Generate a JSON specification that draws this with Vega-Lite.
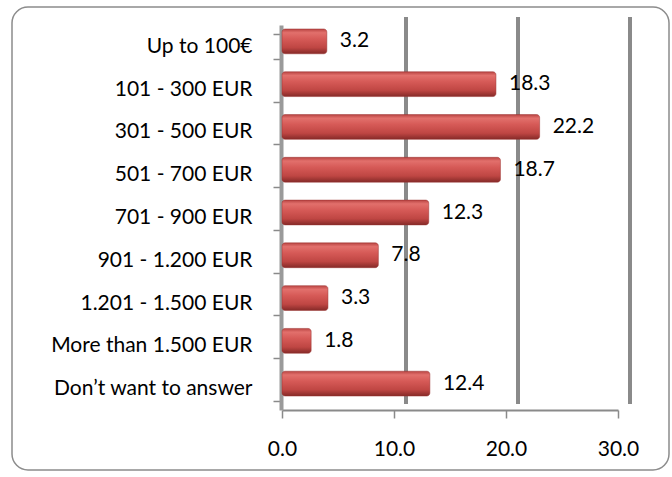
{
  "$schema": "https://vega.github.io/schema/vega-lite/v6.json",
  "width": 657,
  "height": 463,
  "autosize": {"type": "none"},
  "padding": {"left": 12, "top": 7, "right": 3, "bottom": 7},
  "background": "white",
  "config": {
    "view": {"stroke": "#8c8c8c", "strokeWidth": 1.5, "cornerRadius": 16},
    "font": "Lato"
  },
  "data": {
    "values": [
      {"cat": "Up to 100€", "v": 3.2},
      {"cat": "101 - 300 EUR", "v": 18.3},
      {"cat": "301 - 500 EUR", "v": 22.2},
      {"cat": "501 - 700 EUR", "v": 18.7},
      {"cat": "701 - 900 EUR", "v": 12.3},
      {"cat": "901 - 1.200 EUR", "v": 7.8},
      {"cat": "1.201 - 1.500 EUR", "v": 3.3},
      {"cat": "More than  1.500 EUR", "v": 1.8},
      {"cat": "Don’t want to answer", "v": 12.4}
    ]
  },
  "layer": [
    {
      "data": {"values": [{"g": 10}, {"g": 20}, {"g": 30}]},
      "mark": {"type": "rule", "color": "#8a8a8a", "strokeWidth": 4, "xOffset": 12},
      "encoding": {
        "x": {
          "field": "g", "type": "quantitative",
          "scale": {"domain": [0, 30], "range": [270, 606], "nice": false, "zero": false},
          "axis": {
            "title": null, "values": [0, 10, 20, 30], "format": ".1f", "offset": -60, "grid": false,
            "labelFlush": false,
            "domainColor": "#8a8a8a", "domainWidth": 2,
            "tickSize": 8, "tickColor": "#8a8a8a", "tickWidth": 1.5,
            "labelFontSize": 21, "labelColor": "#000000", "labelPadding": 20, "labelFont": "Lato"
          }
        },
        "y": {"datum": 0, "type": "quantitative", "scale": {"domain": [0, 1], "range": [10, 397]}, "axis": null},
        "y2": {"datum": 1}
      }
    },
    {
      "mark": {
        "type": "bar",
        "yOffset": -5,
        "xOffset": 9,
        "cornerRadiusEnd": 3,
        "stroke": "#9a3331",
        "strokeWidth": 0.5,
        "color": {
          "gradient": "linear", "x1": 0, "y1": 0, "x2": 0, "y2": 1,
          "stops": [
            {"offset": 0, "color": "#b94442"},
            {"offset": 0.15, "color": "#e2706c"},
            {"offset": 0.4, "color": "#d65a57"},
            {"offset": 0.75, "color": "#bf4643"},
            {"offset": 1, "color": "#852a28"}
          ]
        }
      },
      "encoding": {
        "y": {
          "field": "cat", "type": "nominal", "sort": null,
          "scale": {"range": [18, 403], "paddingInner": 0.42, "paddingOuter": 0.21},
          "axis": {
            "title": null, "offset": -269,
            "domainColor": "#9a9a9a", "domainWidth": 4,
            "tickBand": "extent", "tickSize": 8, "tickColor": "#8a8a8a", "tickWidth": 1.5,
            "labelFontSize": 21, "labelColor": "#000000", "labelPadding": 21, "labelFont": "Lato", "labelLimit": 400
          }
        },
        "x": {
          "field": "v", "type": "quantitative",
          "scale": {"domain": [0, 30], "range": [270, 606], "nice": false, "zero": false}
        },
        "x2": {"datum": 0}
      }
    },
    {
      "mark": {"type": "text", "align": "left", "baseline": "middle", "dx": 22, "dy": -5, "fontSize": 21, "font": "Lato", "color": "#000000"},
      "encoding": {
        "y": {"field": "cat", "type": "nominal", "sort": null, "scale": {"range": [18, 403], "paddingInner": 0.42, "paddingOuter": 0.21}, "axis": null},
        "x": {"field": "v", "type": "quantitative"},
        "text": {"field": "v", "type": "quantitative", "format": ".1f"}
      }
    }
  ],
  "resolve": {"scale": {"y": "independent"}}
}
